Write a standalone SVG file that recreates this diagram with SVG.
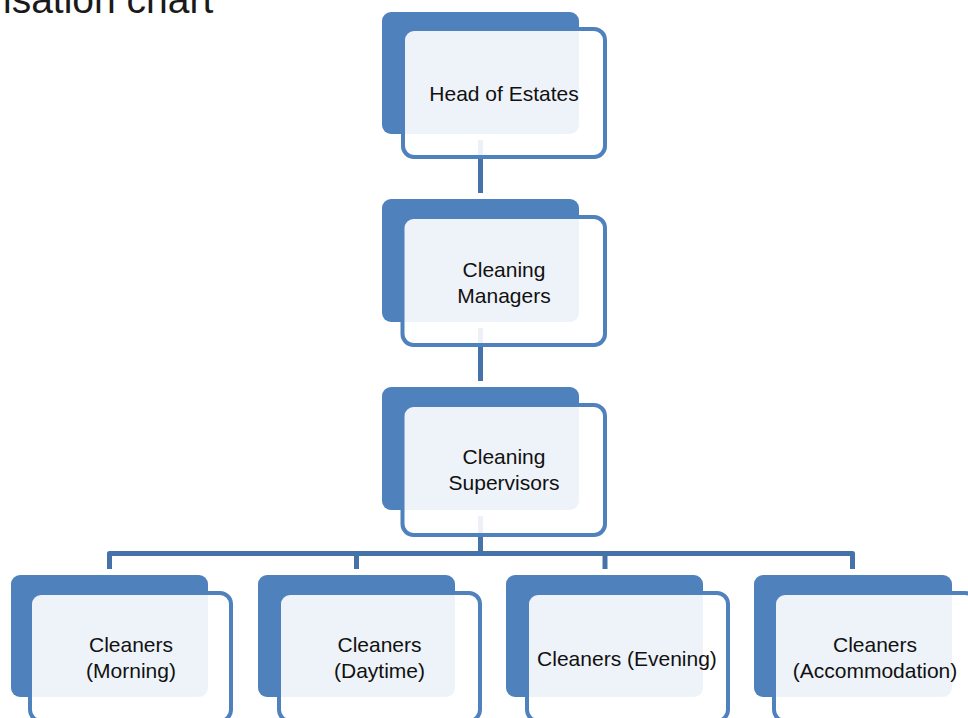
<svg xmlns="http://www.w3.org/2000/svg" width="968" height="718" viewBox="0 0 968 718">
<style>
.back{fill:#4F81BD}
.front{fill:#FFFFFF;fill-opacity:0.9;stroke:#4F81BD;stroke-width:4}
.lbl{font-family:"Liberation Sans",Arial,sans-serif;font-size:21px;fill:#111111;text-anchor:middle}
.conn{fill:none;stroke:#4672AA;stroke-width:5;stroke-linejoin:round}
</style>
<rect width="968" height="718" fill="#FFFFFF"/>
<text x="3" y="13" style="font-family:'Liberation Sans',Arial,sans-serif;font-size:39px;fill:#1A1A1A">isation chart</text>
<g id="connectors">
<path class="conn" d="M480.5,140 V193"/>
<path class="conn" d="M480.5,328 V381"/>
<path class="conn" d="M480.5,516 V553.5"/>
<path class="conn" d="M109.5,569 V553.5 H852.5 V569"/>
<path class="conn" d="M356.5,553.5 V569"/>
<path class="conn" d="M605,553.5 V569"/>
</g>
<g id="head">
<rect class="back" x="382" y="12" width="197" height="122" rx="9"/>
<rect class="front" x="403" y="29" width="202" height="128" rx="11"/>
<text class="lbl" x="504" y="100.5">Head of Estates</text>
</g>
<g id="managers">
<rect class="back" x="382" y="199" width="197" height="123" rx="9"/>
<rect class="front" x="402.5" y="217" width="202.5" height="128" rx="11"/>
<text class="lbl" x="504" y="276.7">Cleaning</text>
<text class="lbl" x="504" y="302.7">Managers</text>
</g>
<g id="supervisors">
<rect class="back" x="382" y="387" width="197" height="123" rx="9"/>
<rect class="front" x="402.5" y="405" width="202.5" height="130" rx="11"/>
<text class="lbl" x="504" y="463.5">Cleaning</text>
<text class="lbl" x="504" y="489.8">Supervisors</text>
</g>
<g id="morning">
<rect class="back" x="11" y="575" width="197" height="122" rx="9"/>
<rect class="front" x="30" y="593" width="201" height="128" rx="11"/>
<text class="lbl" x="131" y="651.7">Cleaners</text>
<text class="lbl" x="131" y="677.7">(Morning)</text>
</g>
<g id="daytime">
<rect class="back" x="258" y="575" width="197" height="122" rx="9"/>
<rect class="front" x="279" y="593" width="201" height="128" rx="11"/>
<text class="lbl" x="379.5" y="651.7">Cleaners</text>
<text class="lbl" x="379.5" y="677.7">(Daytime)</text>
</g>
<g id="evening">
<rect class="back" x="506" y="575" width="197" height="122" rx="9"/>
<rect class="front" x="527" y="593" width="201" height="128" rx="11"/>
<text class="lbl" x="627" y="665.5">Cleaners (Evening)</text>
</g>
<g id="accommodation">
<rect class="back" x="754" y="575" width="198" height="122" rx="9"/>
<rect class="front" x="774" y="593" width="202" height="128" rx="11"/>
<text class="lbl" x="875" y="651.7">Cleaners</text>
<text class="lbl" x="875" y="677.7">(Accommodation)</text>
</g>
</svg>
